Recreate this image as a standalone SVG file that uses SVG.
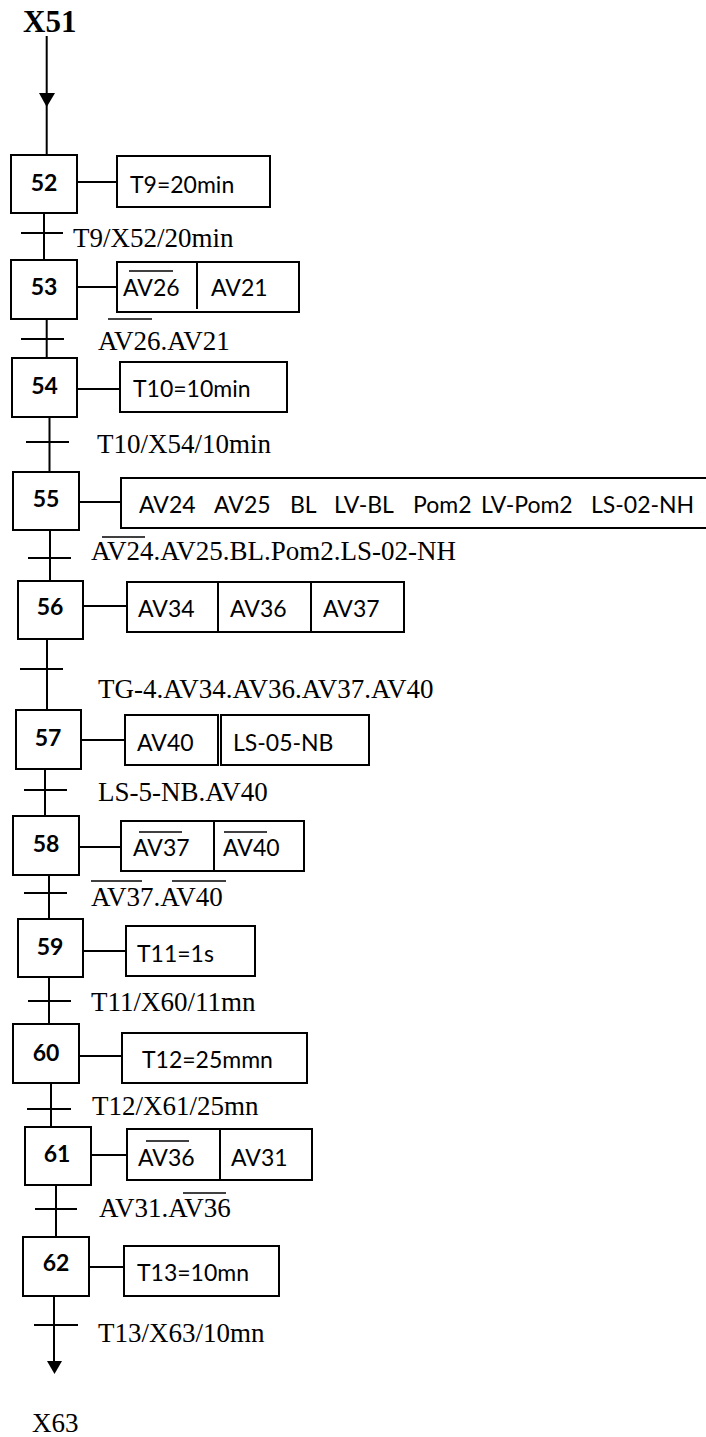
<svg xmlns="http://www.w3.org/2000/svg" width="706" height="1437" viewBox="0 0 706 1437">
<defs>
<style>
.ln{stroke:#000;stroke-width:2;fill:none}
.bx{stroke:#000;stroke-width:2;fill:#fff}
.ov{stroke:#000;stroke-width:1.6}
.st{font-family:Lato,"Liberation Sans",sans-serif;font-weight:bold;font-size:23px;text-anchor:middle}
.ac{font-family:Lato,"Liberation Sans",sans-serif;font-size:23px}
.tr{font-family:"Liberation Serif",serif;font-size:27px}
</style>
</defs>
<rect width="706" height="1437" fill="#fff"/>
<text x="23" y="32" font-family="Liberation Serif,serif" font-weight="bold" font-size="31">X51</text>
<g id="connectors">
<line class="ln" x1="46.7" y1="36" x2="46.7" y2="155"/>
<polygon points="39,93 55,93 46.7,107"/>
<line class="ln" x1="44" y1="213" x2="44" y2="260"/><line class="ln" x1="21" y1="233" x2="63" y2="233"/>
<line class="ln" x1="46.7" y1="319" x2="46.7" y2="358"/><line class="ln" x1="21" y1="339" x2="64" y2="339"/>
<line class="ln" x1="49.5" y1="417" x2="49.5" y2="472"/><line class="ln" x1="26" y1="442" x2="69" y2="442"/>
<line class="ln" x1="50" y1="530" x2="50" y2="581"/><line class="ln" x1="28" y1="558" x2="71" y2="558"/>
<line class="ln" x1="47" y1="639" x2="47" y2="710"/><line class="ln" x1="20" y1="669" x2="63" y2="669"/>
<line class="ln" x1="45" y1="769" x2="45" y2="816"/><line class="ln" x1="24" y1="790" x2="67" y2="790"/>
<line class="ln" x1="49" y1="875" x2="49" y2="919"/><line class="ln" x1="24" y1="893" x2="67" y2="893"/>
<line class="ln" x1="49" y1="977" x2="49" y2="1024"/><line class="ln" x1="28" y1="1001" x2="71" y2="1001"/>
<line class="ln" x1="51" y1="1083" x2="51" y2="1127"/><line class="ln" x1="27" y1="1109" x2="71" y2="1109"/>
<line class="ln" x1="56" y1="1185" x2="56" y2="1237"/><line class="ln" x1="35" y1="1209" x2="77" y2="1209"/>
<line class="ln" x1="54" y1="1296" x2="54" y2="1366"/><line class="ln" x1="34" y1="1325" x2="78" y2="1325"/>
<polygon points="47,1361 62,1361 54.5,1374"/>
<line class="ln" x1="77" y1="182" x2="117" y2="182"/>
<line class="ln" x1="77" y1="287" x2="117" y2="287"/>
<line class="ln" x1="77" y1="389" x2="120" y2="389"/>
<line class="ln" x1="79" y1="502" x2="121" y2="502"/>
<line class="ln" x1="83" y1="606" x2="127" y2="606"/>
<line class="ln" x1="81" y1="740" x2="124" y2="740"/>
<line class="ln" x1="79" y1="847" x2="121" y2="847"/>
<line class="ln" x1="83" y1="951" x2="126" y2="951"/>
<line class="ln" x1="79" y1="1056" x2="122" y2="1056"/>
<line class="ln" x1="91" y1="1155" x2="127" y2="1155"/>
<line class="ln" x1="89" y1="1267" x2="124" y2="1267"/>
</g>
<g id="transitions">
<text class="tr" x="73" y="247">T9/X52/20min</text>
<text class="tr" x="98" y="350">AV26.AV21</text><line class="ov" x1="108" y1="319" x2="152" y2="319"/>
<text class="tr" x="97" y="453">T10/X54/10min</text>
<text class="tr" x="91" y="560">AV24.AV25.BL.Pom2.LS-02-NH</text><line class="ov" x1="102" y1="537" x2="145" y2="537"/>
<text class="tr" x="98" y="698" font-size="27.8">TG-4.AV34.AV36.AV37.AV40</text>
<text class="tr" x="98" y="801">LS-5-NB.AV40</text>
<text class="tr" x="91" y="906">AV37.AV40</text><line class="ov" x1="91" y1="881" x2="142" y2="881"/><line class="ov" x1="172" y1="881" x2="226" y2="881"/>
<text class="tr" x="91" y="1011">T11/X60/11mn</text>
<text class="tr" x="92" y="1115">T12/X61/25mn</text>
<text class="tr" x="99" y="1217">AV31.AV36</text><line class="ov" x1="183" y1="1193" x2="226" y2="1193"/>
<text class="tr" x="98" y="1342">T13/X63/10mn</text>
<text class="tr" x="32" y="1432">X63</text>
</g>
<g id="step52"><rect class="bx" x="11" y="155" width="66" height="58"/><text class="st" x="44" y="191">52</text>
<rect class="bx" x="117" y="156" width="153" height="51"/><text class="ac" x="130" y="193">T9=20min</text></g>
<g id="step53"><rect class="bx" x="11" y="260" width="66" height="59"/><text class="st" x="44" y="295">53</text>
<rect class="bx" x="117" y="262" width="182" height="50"/><line class="ln" x1="197" y1="262" x2="197" y2="309"/>
<text class="ac" x="123" y="296">AV26</text><line class="ov" x1="129" y1="271" x2="173" y2="271"/><text class="ac" x="211" y="296">AV21</text></g>
<g id="step54"><rect class="bx" x="12" y="358" width="65" height="59"/><text class="st" x="44.5" y="394">54</text>
<rect class="bx" x="120" y="362" width="167" height="50"/><text class="ac" x="133" y="397">T10=10min</text></g>
<g id="step55"><rect class="bx" x="13" y="472" width="66" height="58"/><text class="st" x="46" y="507">55</text>
<rect class="bx" x="121" y="478" width="600" height="50"/>
<text class="ac" x="139" y="513">AV24</text><text class="ac" x="214" y="513">AV25</text><text class="ac" x="290" y="513">BL</text><text class="ac" x="334" y="513">LV-BL</text><text class="ac" x="413" y="513">Pom2</text><text class="ac" x="481" y="513">LV-Pom2</text><text class="ac" x="591" y="513">LS-02-NH</text></g>
<g id="step56"><rect class="bx" x="18" y="581" width="65" height="58"/><text class="st" x="50" y="615">56</text>
<rect class="bx" x="127" y="582" width="93" height="50"/><rect class="bx" x="218" y="582" width="93" height="50"/><rect class="bx" x="311" y="582" width="93" height="50"/>
<text class="ac" x="138" y="617">AV34</text><text class="ac" x="230" y="617">AV36</text><text class="ac" x="323" y="617">AV37</text></g>
<g id="step57"><rect class="bx" x="16" y="710" width="65" height="59"/><text class="st" x="48" y="746">57</text>
<rect class="bx" x="125" y="715" width="93" height="50"/><rect class="bx" x="221" y="715" width="148" height="50"/>
<text class="ac" x="137" y="751">AV40</text><text class="ac" x="233" y="751">LS-05-NB</text></g>
<g id="step58"><rect class="bx" x="13" y="816" width="66" height="59"/><text class="st" x="46" y="852">58</text>
<rect class="bx" x="121" y="821" width="183" height="50"/><line class="ln" x1="214" y1="821" x2="214" y2="871"/>
<text class="ac" x="133" y="856">AV37</text><line class="ov" x1="139" y1="832" x2="182" y2="832"/><text class="ac" x="223" y="856">AV40</text><line class="ov" x1="224" y1="832" x2="267" y2="832"/></g>
<g id="step59"><rect class="bx" x="18" y="919" width="65" height="58"/><text class="st" x="50" y="955">59</text>
<rect class="bx" x="126" y="926" width="129" height="50"/><text class="ac" x="137" y="962">T11=1s</text></g>
<g id="step60"><rect class="bx" x="13" y="1024" width="66" height="59"/><text class="st" x="46" y="1061">60</text>
<rect class="bx" x="122" y="1033" width="185" height="50"/><text class="ac" x="142" y="1068">T12=25mmn</text></g>
<g id="step61"><rect class="bx" x="25" y="1127" width="66" height="58"/><text class="st" x="57" y="1162">61</text>
<rect class="bx" x="127" y="1129" width="185" height="51"/><line class="ln" x1="220" y1="1129" x2="220" y2="1180"/>
<text class="ac" x="138" y="1166">AV36</text><line class="ov" x1="146" y1="1141" x2="189" y2="1141"/><text class="ac" x="231" y="1166">AV31</text></g>
<g id="step62"><rect class="bx" x="23" y="1237" width="66" height="59"/><text class="st" x="56" y="1271">62</text>
<rect class="bx" x="124" y="1246" width="155" height="50"/><text class="ac" x="137" y="1281">T13=10mn</text></g>
</svg>
